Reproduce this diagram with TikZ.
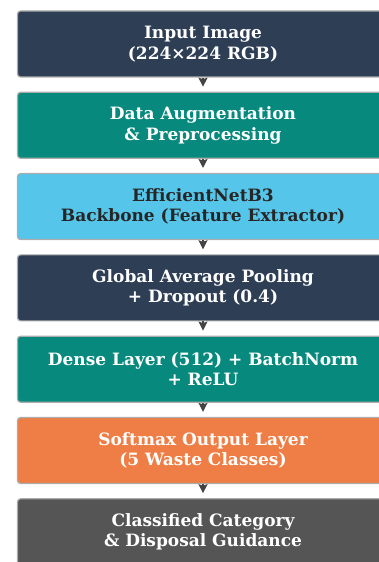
\documentclass[tikz,border=0pt]{standalone}
\usepackage{fontspec}
\setmainfont{DejaVu Serif}
\usetikzlibrary{positioning,arrows.meta}
\definecolor{navy}{HTML}{2D3E55}
\definecolor{teal}{HTML}{078A7D}
\definecolor{sky}{HTML}{56C5EA}
\definecolor{orange}{HTML}{EE7E45}
\definecolor{slate}{HTML}{555555}
\definecolor{arrowgray}{HTML}{444444}
\tikzset{
  stage/.style={draw=gray!65,line width=1.2pt,rounded corners=3pt,
    minimum width=371pt,minimum height=66pt,align=center,
    font=\fontsize{17}{20.5}\selectfont\bfseries,text=white},
  flow/.style={-{Stealth[length=9pt,width=9pt,inset=1.5pt]},line width=1.2pt,arrowgray},
}
\begin{document}
\begin{tikzpicture}[x=1pt,y=1pt]
    \useasboundingbox (0,0) rectangle (378,562);
    \node[stage,fill=navy] (input) at (203,518) {Input Image\\(224×224 RGB)};
    \node[stage,fill=teal,below=14.1pt of input] (augment) {Data Augmentation\\\& Preprocessing};
    \node[stage,fill=sky,text=black!85,below=14.1pt of augment] (backbone) {EfficientNetB3\\Backbone (Feature Extractor)};
    \node[stage,fill=navy,below=14.1pt of backbone] (pooling) {Global Average Pooling\\+ Dropout (0.4)};
    \node[stage,fill=teal,below=14.1pt of pooling] (dense) {Dense Layer (512) + BatchNorm\\+ ReLU};
    \node[stage,fill=orange,below=14.1pt of dense] (softmax) {Softmax Output Layer\\(5 Waste Classes)};
    \node[stage,fill=slate,below=14.1pt of softmax] (output) {Classified Category\\\& Disposal Guidance};

    \foreach \a/\b in {input/augment,augment/backbone,backbone/pooling,pooling/dense,dense/softmax,softmax/output}
        \draw[flow] (\a.south) -- ([yshift=5pt]\b.north);
\end{tikzpicture}
\end{document}
